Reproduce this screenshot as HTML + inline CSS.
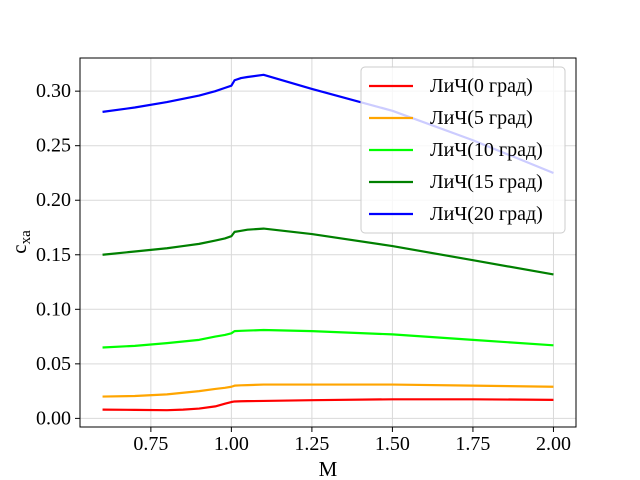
<!DOCTYPE html>
<html><head><meta charset="utf-8"><style>body{margin:0;background:#fff}svg{display:block}text{font-family:"Liberation Serif",serif;fill:#000}</style></head>
<body>
<svg id="chart" width="640" height="480" xmlns="http://www.w3.org/2000/svg">
<g id="grid"></g>
<g id="series"></g>
<rect x="80" y="58" width="496" height="369" fill="none" stroke="#000" stroke-width="1"/>
<g id="ticks"></g>
<text x="328" y="476" font-size="21" text-anchor="middle">M</text>
<text transform="translate(26,242) rotate(-90)" font-size="21" text-anchor="middle">c<tspan font-size="15" dy="4">xa</tspan></text>
<g id="legend"></g>
</svg>
<script>
const xTicks=[0.75,1.00,1.25,1.50,1.75,2.00];
const yTicks=[0.00,0.05,0.10,0.15,0.20,0.25,0.30];
const mach=[0.6,0.7,0.8,0.85,0.9,0.95,0.98,1.0,1.01,1.03,1.05,1.1,1.25,1.5,1.75,2.0];
const cx0=[0.008,0.0078,0.0075,0.008,0.009,0.011,0.0135,0.015,0.0155,0.0157,0.0158,0.016,0.0167,0.0175,0.0175,0.017];
const cx5=[0.020,0.0205,0.022,0.0235,0.025,0.027,0.028,0.029,0.030,0.0303,0.0305,0.031,0.031,0.031,0.030,0.029];
const cx10=[0.065,0.0665,0.069,0.0705,0.072,0.075,0.0765,0.078,0.080,0.0803,0.0805,0.081,0.080,0.077,0.072,0.067];
const cx15=[0.150,0.153,0.156,0.158,0.160,0.163,0.165,0.167,0.171,0.172,0.173,0.174,0.169,0.158,0.145,0.132];
const cx20=[0.281,0.285,0.290,0.293,0.296,0.300,0.303,0.305,0.310,0.312,0.313,0.315,0.302,0.282,0.255,0.225];
const seriesNames=["ЛиЧ(0 град)","ЛиЧ(5 град)","ЛиЧ(10 град)","ЛиЧ(15 град)","ЛиЧ(20 град)"];
const seriesData=[cx0,cx5,cx10,cx15,cx20];
const colors=["#ff0000","#ffa500","#00ff00","#008000","#0000ff"];
const NS="http://www.w3.org/2000/svg";
const X=v=>80+(v-0.53)/(2.07-0.53)*496;
const Y=v=>58+(0.3304-v)/(0.3304+0.0079)*369;
function mk(t,a,p){const e=document.createElementNS(NS,t);for(const k in a)e.setAttribute(k,a[k]);p.appendChild(e);return e;}
const grid=document.getElementById('grid'),ticks=document.getElementById('ticks');
xTicks.forEach(v=>{
 const l=mk('line',{x1:X(v),x2:X(v),y1:58,y2:427,stroke:'#d9d9d9','stroke-width':1},grid);
 
 
 const t=mk('line',{x1:X(v),x2:X(v),y1:427,y2:432,stroke:'#000'},ticks);
 
 
 const s=mk('text',{x:X(v),y:450,'font-size':20,'text-anchor':'middle'},ticks);s.textContent=v.toFixed(2);
 
 
});
yTicks.forEach(v=>{
 const l=mk('line',{x1:80,x2:576,y1:Y(v),y2:Y(v),stroke:'#d9d9d9','stroke-width':1},grid);
 
 
 const t=mk('line',{x1:75,x2:80,y1:Y(v),y2:Y(v),stroke:'#000'},ticks);
 
 
 const s=mk('text',{x:71,y:Y(v)+6,'font-size':20,'text-anchor':'end'},ticks);s.textContent=v.toFixed(2);
 
 
});
const sg=document.getElementById('series');
seriesData.forEach((d,i)=>{
 const p=mk('polyline',{points:mach.map((m,j)=>X(m)+','+Y(d[j])).join(' '),fill:'none',stroke:colors[i],'stroke-width':2.2,'stroke-linejoin':'round'},sg);
 
 
});
const lg=document.getElementById('legend');
const box=mk('rect',{x:361,y:67,width:204,height:166,rx:4,fill:'#fff','fill-opacity':0.8,stroke:'#ccc'},lg);


seriesNames.forEach((n,i)=>{
 const y=86+i*32;
 const l=mk('line',{x1:369,x2:413,y1:y,y2:y,stroke:colors[i],'stroke-width':2.2},lg);
 
 
 const t=mk('text',{x:430,y:y+6,'font-size':20},lg);t.textContent=n;
 
 
});
</script>
</body></html>
